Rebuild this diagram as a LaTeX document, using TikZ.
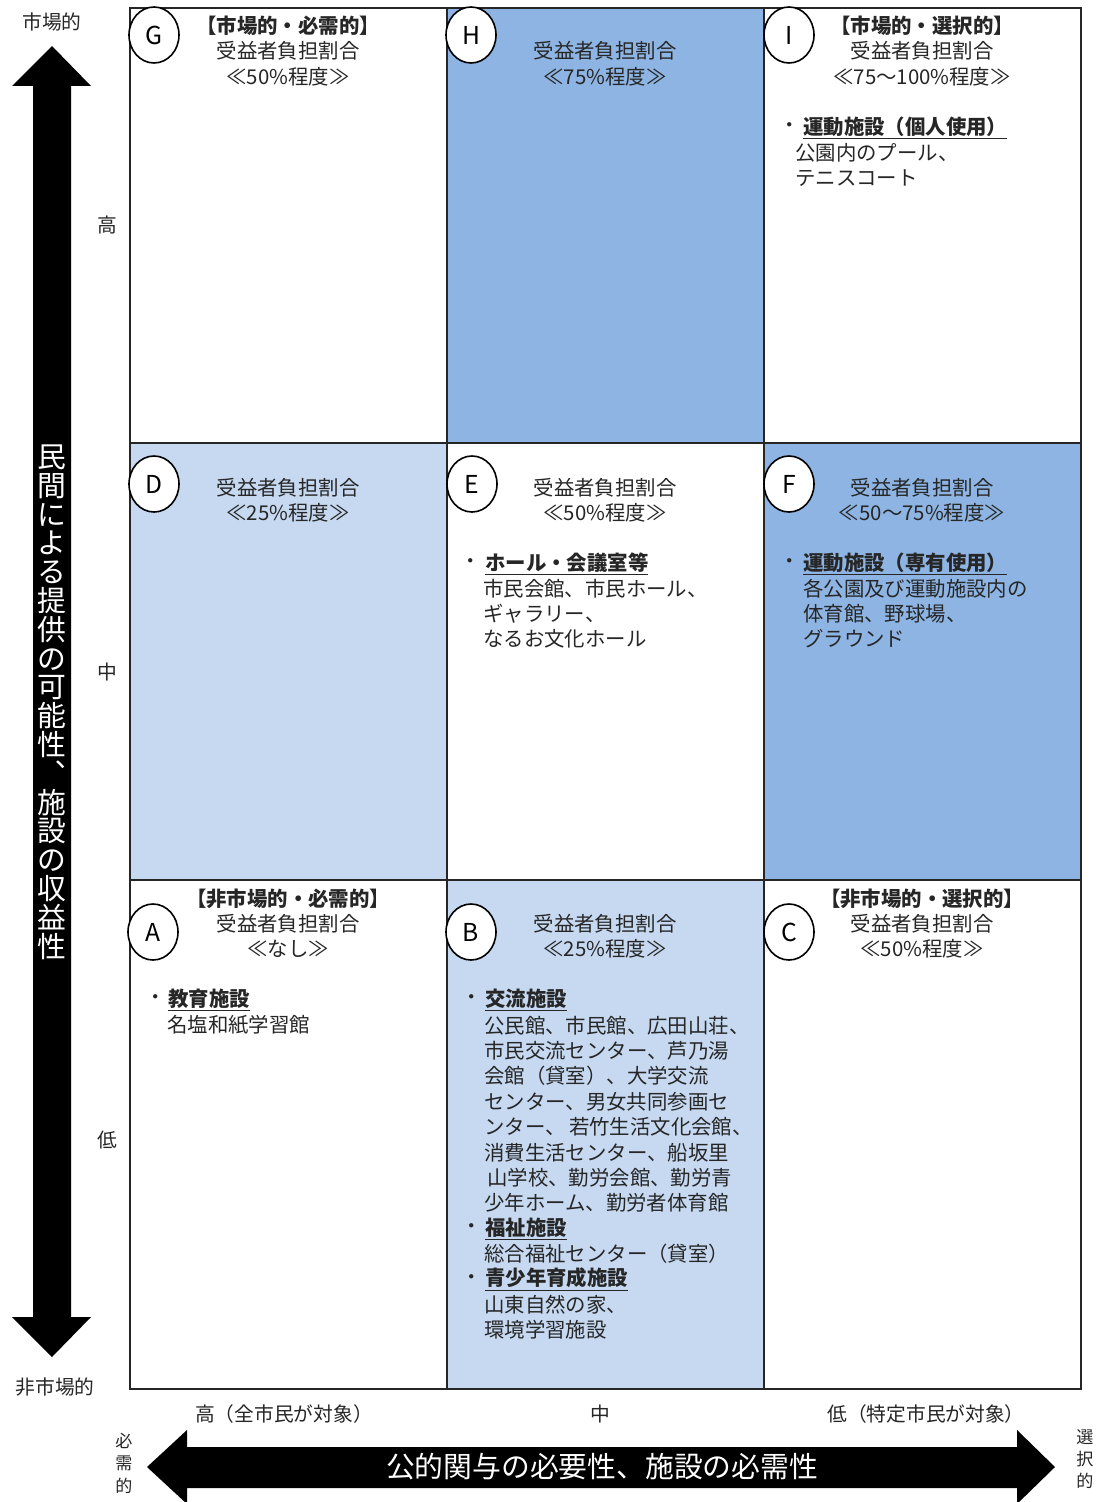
\documentclass[tikz,border=0pt]{standalone}
\usepackage{fontspec}
\setmainfont{Noto Sans CJK JP}
\usetikzlibrary{shapes.geometric}
\definecolor{ink}{HTML}{262626}
\definecolor{bluedark}{HTML}{8DB4E2}
\definecolor{bluelight}{HTML}{C6D9F1}
\newcommand\bodyfs{\fontsize{15.3pt}{18pt}\selectfont}
\newcommand\axisfs{\fontsize{14.8pt}{18pt}\selectfont}
\newcommand\bigfs{\fontsize{21.6pt}{21.6pt}\selectfont}
\newcommand\smallvfs{\fontsize{12.8pt}{16.8pt}\selectfont}
\newcommand\badgefs{\fontsize{18.5pt}{19pt}\selectfont}
\tikzset{
  txt/.style={font=\bodyfs, text=ink, inner sep=0pt},
  ctr/.style={txt, anchor=center},
  lft/.style={txt, anchor=west},
  axislabel/.style={font=\axisfs, text=ink, inner sep=0pt, anchor=center},
  badge/.style={ellipse, draw=black, fill=white, line width=1.2pt,
    minimum width=37.5pt, minimum height=42pt, inner sep=0pt, font=\badgefs, text=black},
  gridline/.style={draw=black!85, line width=1.1pt},
  bigarrow/.style={fill=black},
}
\begin{document}
\begin{tikzpicture}[x=0.75pt,y=-0.75pt]
\useasboundingbox (0,0) rectangle (1099,1502);
\fill[white] (0,0) rectangle (1099,1502);

% ---- cell fills
\fill[bluedark]  (447,8) rectangle (764,443);
\fill[bluelight] (130,443) rectangle (447,880);
\fill[bluedark]  (764,443) rectangle (1081,880);
\fill[bluelight] (447,880) rectangle (764,1389);

% ---- grid
\draw[gridline] (130,8) rectangle (1081,1389);
\draw[gridline] (447,8) -- (447,1389);
\draw[gridline] (764,8) -- (764,1389);
\draw[gridline] (130,443) -- (1081,443);
\draw[gridline] (130,880) -- (1081,880);

% ---- vertical arrow
\fill[bigarrow] (33,86) -- (12,86) -- (52,46) -- (91,86) -- (71,86) -- (71,1317)
  -- (91,1317) -- (52,1357) -- (12,1317) -- (33,1317) -- cycle;
\node[font=\bigfs, text=white, align=center, inner sep=0pt] (vtitle) at (52,702)
  {民\\間\\に\\よ\\る\\提\\供\\の\\可\\能\\性\\︑\\施\\設\\の\\収\\益\\性};

% ---- horizontal arrow
\fill[bigarrow] (147,1467) -- (187,1430) -- (187,1447) -- (1017,1447) -- (1017,1430)
  -- (1055,1467) -- (1017,1504) -- (1017,1488) -- (187,1488) -- (187,1504) -- cycle;
\node[font=\bigfs, text=white, inner sep=0pt] (htitle) at (602,1467) {公的関与の必要性、施設の必需性};

% ---- axis labels
\node[axislabel] (top) at (52,22) {市場的};
\node[axislabel] (bottom) at (55,1387) {非市場的};
\node[axislabel] (vhigh) at (107,225) {高};
\node[axislabel] (vmid) at (107,672) {中};
\node[axislabel] (vlow) at (107,1140) {低};
\node[axislabel] (hhigh) at (284,1414) {高（全市民が対象）};
\node[axislabel] (hmid) at (600,1414) {中};
\node[axislabel] (hlow) at (926,1414) {低（特定市民が対象）};
\node[font=\smallvfs, text=ink, align=center, inner sep=0pt] (nec) at (124,1463) {必\\需\\的};
\node[font=\smallvfs, text=ink, align=center, inner sep=0pt] (sel) at (1085,1459) {選\\択\\的};

% ---- badges
\node[badge] (bG) at (154,35) {G};
\node[badge] (bH) at (471,35) {H};
\node[badge] (bI) at (789,35) {I};
\node[badge] (bD) at (154,484) {D};
\node[badge] (bE) at (472,484) {E};
\node[badge] (bF) at (789,484) {F};
\node[badge] (bA) at (153,932) {A};
\node[badge] (bB) at (471,932) {B};
\node[badge] (bC) at (789,932) {C};

% ---- cell G
\node[ctr] (g1) at (288,26) {\textbf{【市場的・必需的】}};
\node[ctr] (g2) at (288,51) {受益者負担割合};
\node[ctr] (g3) at (288,77) {≪50\%程度≫};
% ---- cell H
\node[ctr] (h2) at (605,51) {受益者負担割合};
\node[ctr] (h3) at (605,77) {≪75\%程度≫};
% ---- cell I
\node[ctr] (i1) at (922,26) {\textbf{【市場的・選択的】}};
\node[ctr] (i2) at (922,51) {受益者負担割合};
\node[ctr] (i3) at (922,77) {≪75～100\%程度≫};
\node[ctr] (ib) at (790,128) {・};
\node[lft] (il1) at (803,128) {\underline{\textbf{運動施設（個人使用）}}};
\node[lft] (il2) at (795,153) {公園内のプール、};
\node[lft] (il3) at (795,178) {テニスコート};

% ---- cell D
\node[ctr] (d2) at (288,488) {受益者負担割合};
\node[ctr] (d3) at (288,513) {≪25\%程度≫};
% ---- cell E
\node[ctr] (e2) at (605,488) {受益者負担割合};
\node[ctr] (e3) at (605,513) {≪50\%程度≫};
\node[ctr] (eb) at (471,564) {・};
\node[lft] (el1) at (485,564) {\underline{\textbf{ホール・会議室等}}};
\node[lft] (el2) at (483,589) {市民会館、市民ホール、};
\node[lft] (el3) at (483,614) {ギャラリー、};
\node[lft] (el4) at (483,639) {なるお文化ホール};
% ---- cell F
\node[ctr] (f2) at (922,488) {受益者負担割合};
\node[ctr] (f3) at (922,513) {≪50～75\%程度≫};
\node[ctr] (fb) at (790,564) {・};
\node[lft] (fl1) at (803,564) {\underline{\textbf{運動施設（専有使用）}}};
\node[lft] (fl2) at (803,589) {各公園及び運動施設内の};
\node[lft] (fl3) at (803,614) {体育館、野球場、};
\node[lft] (fl4) at (803,639) {グラウンド};

% ---- cell A
\node[ctr] (a1) at (288,899) {\textbf{【非市場的・必需的】}};
\node[ctr] (a2) at (288,924) {受益者負担割合};
\node[ctr] (a3) at (288,949) {≪なし≫};
\node[ctr] (ab) at (156,1000) {・};
\node[lft] (al1) at (168,1000) {\underline{\textbf{教育施設}}};
\node[lft] (al2) at (167,1025) {名塩和紙学習館};
% ---- cell B
\node[ctr] (b2) at (605,924) {受益者負担割合};
\node[ctr] (b3) at (605,949) {≪25\%程度≫};
\node[ctr] (bb1) at (472,1000) {・};
\node[lft] (bl1) at (485,1000) {\underline{\textbf{交流施設}}};
\node[lft] (bl2) at (484,1025.4) {公民館、市民館、広田山荘、};
\node[lft] (bl3) at (484,1050.8) {市民交流センター、芦乃湯};
\node[lft] (bl4) at (484,1076.2) {会館（貸室）、大学交流};
\node[lft] (bl5) at (484,1101.6) {センター、男女共同参画セ};
\node[lft] (bl6) at (484,1127.0) {ンター、\,若竹生活文化会館、};
\node[lft] (bl7) at (484,1152.4) {消費生活センター、船坂里};
\node[lft] (bl8) at (487,1177.8) {山学校、勤労会館、勤労青};
\node[lft] (bl9) at (484,1203.2) {少年ホーム、勤労者体育館};
\node[ctr] (bb2) at (472,1228.6) {・};
\node[lft] (bl10) at (485,1228.6) {\underline{\textbf{福祉施設}}};
\node[lft] (bl11) at (484,1254.0) {総合福祉センター（貸室）};
\node[ctr] (bb3) at (472,1279.4) {・};
\node[lft] (bl12) at (485,1279.4) {\underline{\textbf{青少年育成施設}}};
\node[lft] (bl13) at (484,1304.8) {山東自然の家、};
\node[lft] (bl14) at (484,1330.2) {環境学習施設};
% ---- cell C
\node[ctr] (c1) at (922,899) {\textbf{【非市場的・選択的】}};
\node[ctr] (c2) at (922,924) {受益者負担割合};
\node[ctr] (c3) at (922,949) {≪50\%程度≫};
\end{tikzpicture}
\end{document}
